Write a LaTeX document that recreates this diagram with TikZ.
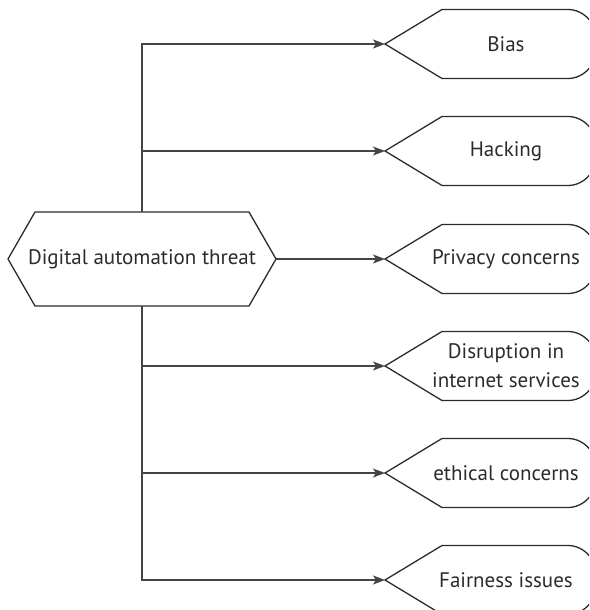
\documentclass[tikz,border=0pt]{standalone}
\usepackage{fontspec}
\setmainfont{PT Sans}
\usetikzlibrary{arrows.meta}
\definecolor{ink}{HTML}{2B2B2B}
\definecolor{wire}{HTML}{444444}
\tikzset{
  outline/.style={draw=ink, line width=1.3pt, line join=miter},
  label/.style={font=\fontsize{21}{29}\selectfont, text=ink, align=center, inner sep=0pt},
  conn/.style={draw=wire, line width=1.3pt, -{Stealth[length=12pt,width=9pt,inset=3pt]}}
}
\begin{document}
\begin{tikzpicture}[x=1pt,y=-1pt]
\useasboundingbox (0,0) rectangle (589,610);
\clip (0,0) rectangle (589,610);
% central hexagon
\draw[outline] (8,259) -- (35,212) -- (249,212) -- (276,259) -- (249,306) -- (35,306) -- cycle;
\node[label] (main) at (142,259) {Digital automation threat};
\coordinate (mainN) at (142,212);
\coordinate (mainS) at (142,306);
\coordinate (mainE) at (276,259);
% output nodes
\foreach \nm/\yy/\txt in {bias/44/{Bias}, hack/151/{Hacking}, priv/259/{Privacy concerns}, disr/366/{Disruption in\\internet services}, ethi/473/{ethical concerns}, fair/580/{Fairness issues}}{
  \draw[outline] (385,\yy) -- (442,\yy-34.5) -- (568,\yy-34.5)
     arc[start angle=90,end angle=-90,x radius=30pt,y radius=34.5pt]
     -- (442,\yy+34.5) -- cycle;
  \node[label] (\nm) at (506,\yy) {\txt};
  \coordinate (\nm tip) at (385,\yy);
}
% connectors
\draw[conn] (mainN) |- (biastip);
\draw[conn] (mainN) |- (hacktip);
\draw[conn] (mainE) -- (privtip);
\draw[conn] (mainS) |- (disrtip);
\draw[conn] (mainS) |- (ethitip);
\draw[conn] (mainS) |- (fairtip);
\end{tikzpicture}
\end{document}
